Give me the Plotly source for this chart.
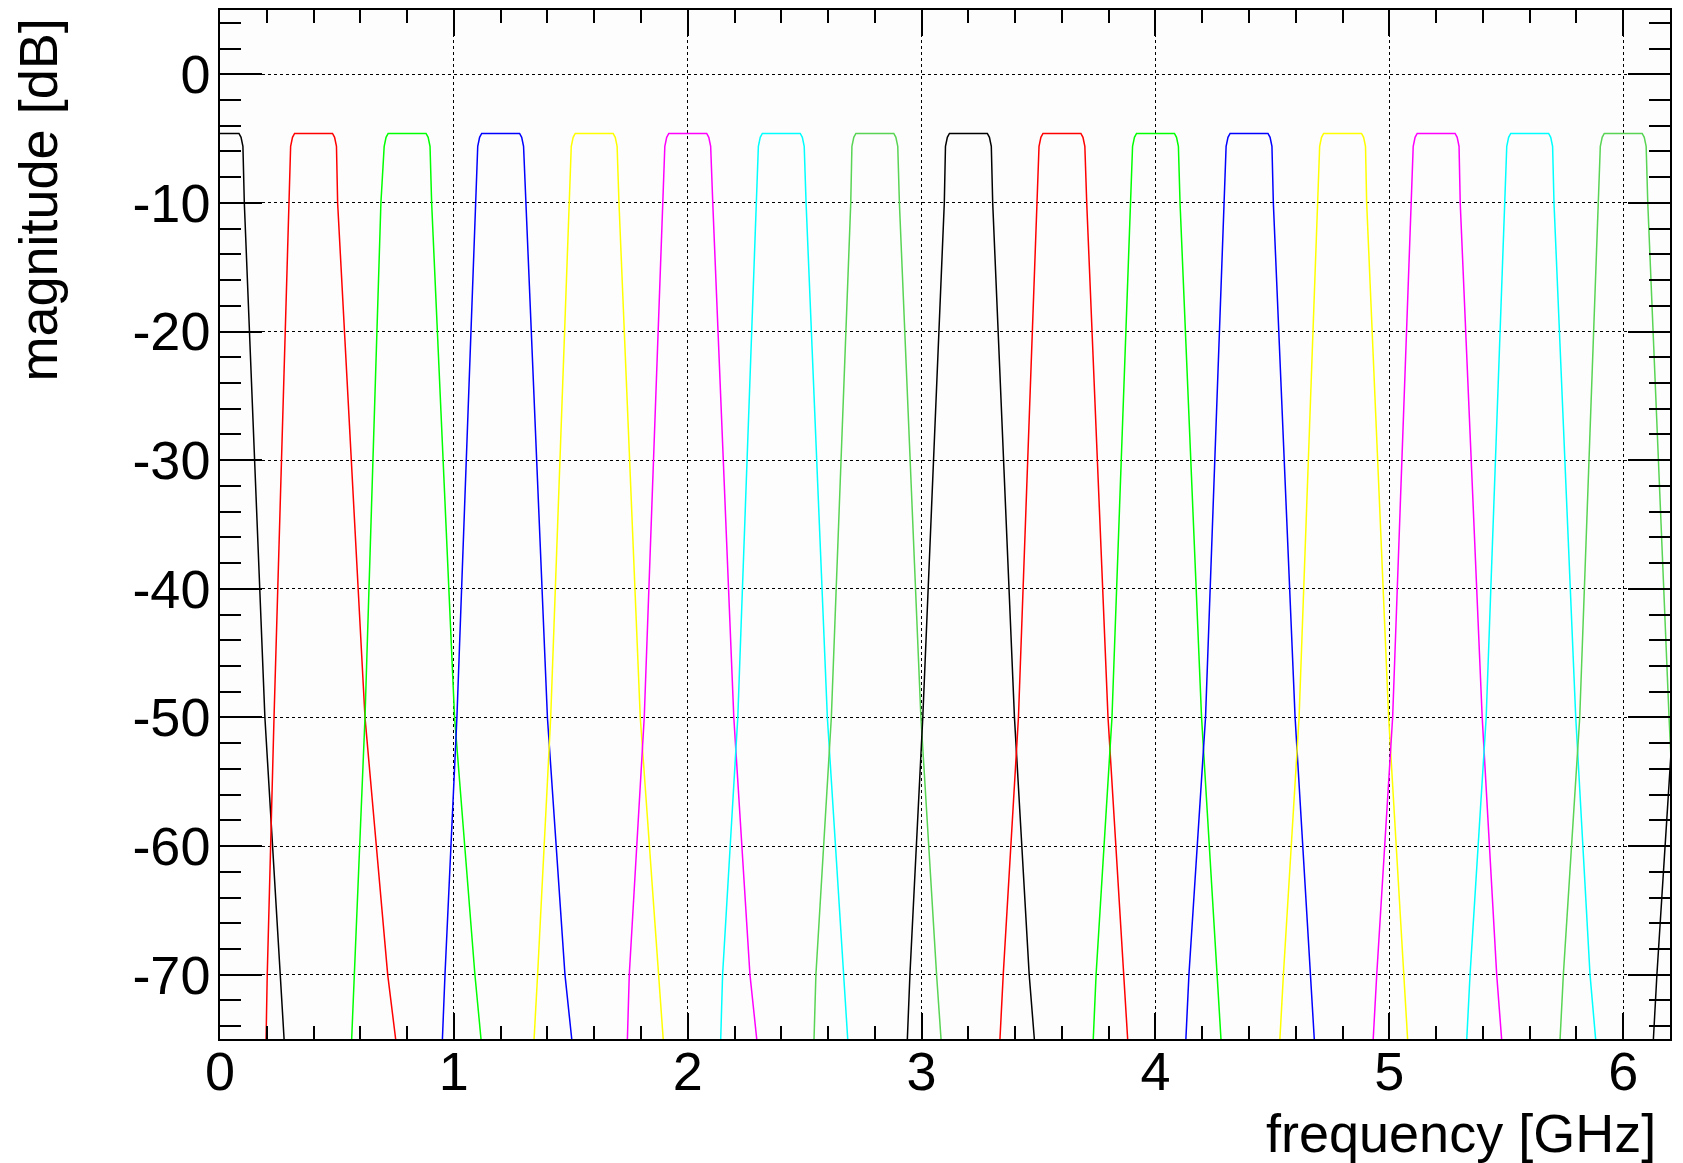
import plotly.graph_objects as go

# ---- data ----
centers = [0.0, 0.4, 0.8, 1.2, 1.6, 2.0, 2.4, 2.8, 3.2, 3.6, 4.0, 4.4, 4.8, 5.2, 5.6, 6.0, 6.4]
colors = ["#000000", "#ff0000", "#00ff00", "#0000ff", "#ffff00", "#ff00ff", "#00ffff", "#59d454",
          "#000000", "#ff0000", "#00ff00", "#0000ff", "#ffff00", "#ff00ff", "#00ffff", "#59d454",
          "#000000"]

# passband top: level (dB) and half-width (GHz) from centre
top_db = [-4.6, -4.9, -5.6]
top_halfwidth = [0.081, 0.090, 0.098]

# skirt crossing frequencies (GHz) at -10, -50, -70 and -75 dB
left_10 = [-0.104, 0.295, 0.688, 1.096, 1.494, 1.896, 2.292, 2.697, 3.097, 3.495, 3.891, 4.293, 4.692, 5.096, 5.494, 5.893, 6.295]
left_50 = [-0.190, 0.231, 0.620, 1.013, 1.414, 1.814, 2.214, 2.614, 3.005, 3.414, 3.814, 4.214, 4.614, 5.014, 5.414, 5.814, 6.214]
left_70 = [-0.257, 0.202, 0.574, 0.962, 1.358, 1.750, 2.149, 2.548, 2.950, 3.349, 3.746, 4.143, 4.547, 4.946, 5.345, 5.744, 6.144]
left_75 = [-0.274, 0.197, 0.563, 0.951, 1.343, 1.742, 2.141, 2.540, 2.939, 3.335, 3.734, 4.130, 4.532, 4.931, 5.331, 5.730, 6.129]
right_10 = [0.104, 0.503, 0.905, 1.308, 1.706, 2.107, 2.506, 2.905, 3.304, 3.706, 4.105, 4.504, 4.903, 5.303, 5.704, 6.105, 6.505]
right_50 = [0.192, 0.620, 1.003, 1.400, 1.797, 2.197, 2.597, 2.997, 3.397, 3.797, 4.197, 4.597, 4.997, 5.397, 5.797, 6.196, 6.597]
right_70 = [0.257, 0.717, 1.090, 1.475, 1.874, 2.266, 2.665, 3.064, 3.460, 3.862, 4.262, 4.661, 5.060, 5.459, 5.858, 6.245, 6.660]
right_75 = [0.274, 0.751, 1.116, 1.504, 1.895, 2.295, 2.684, 3.083, 3.482, 3.881, 4.280, 4.679, 5.078, 5.480, 5.882, 6.260, 6.680]

x_ticks = [0, 1, 2, 3, 4, 5, 6]
x_ticktext = ["0", "1", "2", "3", "4", "5", "6"]
y_ticks = [0, -10, -20, -30, -40, -50, -60, -70]
y_ticktext = ["0", "-10", "-20", "-30", "-40", "-50", "-60", "-70"]

x_range = [0, 6.2]
y_range = [-75, 5]
FONT = "Liberation Sans, Arial, Helvetica, sans-serif"

fig = go.Figure()
for i, c in enumerate(centers):
    xs = [left_75[i], left_70[i], left_50[i], left_10[i]]
    ys = [-75, -70, -50, -10]
    for lvl, hw in zip(reversed(top_db), reversed(top_halfwidth)):
        xs.append(c - hw); ys.append(lvl)
    for lvl, hw in zip(top_db, top_halfwidth):
        xs.append(c + hw); ys.append(lvl)
    xs += [right_10[i], right_50[i], right_70[i], right_75[i]]
    ys += [-10, -50, -70, -75]
    fig.add_trace(go.Scatter(x=xs, y=ys, mode="lines",
                             line=dict(color=colors[i], width=1.5),
                             showlegend=False, hoverinfo="skip"))

axis_common = dict(
    ticks="inside", tickcolor="black", tickwidth=1.5,
    showline=True, linecolor="black", linewidth=1.5, mirror="allticks",
    showgrid=True, gridcolor="black", gridwidth=1, griddash="dot",
    zeroline=False,
    tickfont=dict(family=FONT, size=54, color="black"),
)

fig.update_xaxes(range=x_range, tickmode="array", tickvals=x_ticks, ticktext=x_ticktext,
                 ticklen=26,
                 minor=dict(ticks="inside", ticklen=13, dtick=0.2, tick0=0,
                            tickcolor="black", tickwidth=1.5, showgrid=False),
                 ticklabelstandoff=-16, **axis_common)
fig.update_yaxes(range=y_range, tickmode="array", tickvals=y_ticks, ticktext=y_ticktext,
                 ticklen=42,
                 minor=dict(ticks="inside", ticklen=21, dtick=2, tick0=0,
                            tickcolor="black", tickwidth=1.5, showgrid=False),
                 ticklabelstandoff=-3, **axis_common)

fig.update_layout(
    width=1683, height=1163,
    margin=dict(l=220, r=13, t=8, b=124),
    plot_bgcolor="#fdfdfd", paper_bgcolor="white",
    showlegend=False,
    font=dict(family=FONT, size=52, color="black"),
    annotations=[
        dict(text="frequency [GHz]", xref="paper", yref="paper",
             x=0.9917, y=-0.091, xanchor="right", yanchor="middle",
             showarrow=False, font=dict(family=FONT, size=54, color="black")),
        dict(text="magnitude [dB]", xref="paper", yref="paper", textangle=-90,
             x=-0.1255, y=0.9932, xanchor="center", yanchor="top",
             showarrow=False, font=dict(family=FONT, size=54, color="black")),
    ],
)

fig.write_html("out.html", config={"displayModeBar": False})

# remove the browser's default page margin so the figure sits at (0, 0)
with open("out.html", "r", encoding="utf-8") as fh:
    html = fh.read()
html = html.replace("<body>", '<body style="margin:0;overflow:hidden">', 1)
with open("out.html", "w", encoding="utf-8") as fh:
    fh.write(html)
